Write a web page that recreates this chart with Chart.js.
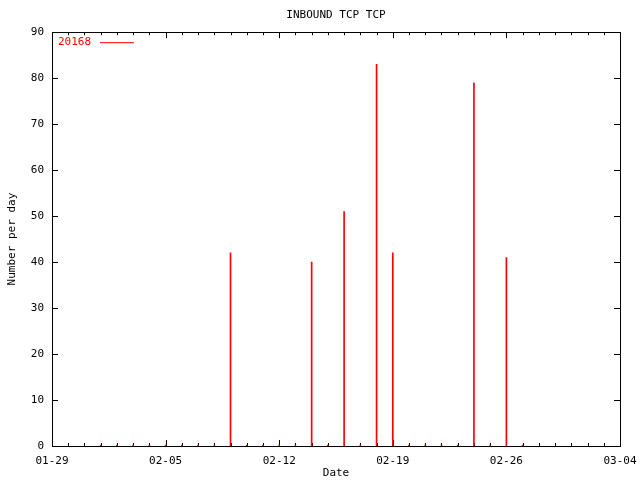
<!DOCTYPE html>
<html>
<head>
<meta charset="utf-8">
<script src="https://cdn.jsdelivr.net/npm/chart.js@4/dist/chart.umd.min.js"></script>
<style>
  html, body { margin: 0; padding: 0; background: #fff; }
  #wrap { width: 640px; height: 480px; }
</style>
</head>
<body>
<div id="wrap"><canvas id="chart" width="640" height="480"></canvas></div>
<script>
// datos (año bisiesto: 02-26 + 7 dias = 03-04)
const fechas = ['02-01','02-02','02-03','02-04','02-05','02-06','02-07','02-08','02-09',
                '02-10','02-11','02-12','02-13','02-14','02-15','02-16','02-17','02-18',
                '02-19','02-20','02-21','02-22','02-23','02-24','02-25','02-26','02-27'];
const valores = [0, 0, 0, 0, 0, 0, 0, 0, 42,
                 0, 0, 0, 0, 40, 0, 51, 0, 83,
                 42, 0, 0, 0, 0, 79, 0, 41, 0];
const serie = '20168';
const inicio = '01-29';
const fin = '03-04';
const yTicks = [0, 10, 20, 30, 40, 50, 60, 70, 80, 90];

const ANIO = 2004;
const DIA = 86400000;
const FUENTE = '"DejaVu Sans Mono", "Liberation Mono", monospace';

function aDia(mmdd) {
    const [m, d] = mmdd.split('-').map(Number);
    const t0 = Date.UTC(ANIO, 0, 29);
    return Math.round((Date.UTC(ANIO, m - 1, d) - t0) / DIA);
}

function aFecha(n) {
    const f = new Date(Date.UTC(ANIO, 0, 29) + n * DIA);
    const mm = String(f.getUTCMonth() + 1).padStart(2, '0');
    const dd = String(f.getUTCDate()).padStart(2, '0');
    return mm + '-' + dd;
}

const puntos = fechas.map((f, i) => ({ x: aDia(f), y: valores[i] }));

// marcas hacia adentro (mayores y menores) y marco estilo gnuplot, debajo de las barras
const marcoPlugin = {
    id: 'marco',
    beforeDatasetsDraw(chart) {
        const { ctx, chartArea: a, scales } = chart;
        const x = scales.x, y = scales.y;
        ctx.save();
        ctx.strokeStyle = '#000';
        ctx.lineWidth = 1;
        ctx.beginPath();
        // marcas del eje x, cada dia
        for (let d = x.min; d <= x.max; d++) {
            const px = Math.round(x.getPixelForValue(d)) + 0.5;
            const largo = (d % 7 === 0) ? 6 : 3;
            ctx.moveTo(px, a.bottom);
            ctx.lineTo(px, a.bottom - largo);
            ctx.moveTo(px, a.top);
            ctx.lineTo(px, a.top + largo);
        }
        // marcas del eje y
        yTicks.forEach(v => {
            const py = Math.round(y.getPixelForValue(v)) + 0.5;
            ctx.moveTo(a.left, py);
            ctx.lineTo(a.left + 6, py);
            ctx.moveTo(a.right, py);
            ctx.lineTo(a.right - 6, py);
        });
        ctx.stroke();
        ctx.strokeRect(Math.round(a.left) + 0.5, Math.round(a.top) + 0.5,
                       Math.round(a.right - a.left), Math.round(a.bottom - a.top));
        ctx.restore();
    },
    // leyenda dentro del area, arriba a la izquierda
    afterDraw(chart) {
        const { ctx, chartArea: a } = chart;
        const ds = chart.data.datasets[0];
        ctx.save();
        ctx.fillStyle = ds.borderColor;
        ctx.font = '11px ' + FUENTE;
        ctx.textBaseline = 'middle';
        ctx.textAlign = 'left';
        ctx.fillText(ds.label, a.left + 6, a.top + 10);
        ctx.strokeStyle = ds.borderColor;
        ctx.lineWidth = 1;
        ctx.beginPath();
        ctx.moveTo(a.left + 48, a.top + 10.5);
        ctx.lineTo(a.left + 82, a.top + 10.5);
        ctx.stroke();
        ctx.restore();
    }
};

Chart.defaults.font.family = FUENTE;
Chart.defaults.font.size = 11;
Chart.defaults.color = '#000';

new Chart(document.getElementById('chart').getContext('2d'), {
    type: 'bar',
    data: {
        datasets: [{
            label: serie,
            data: puntos,
            backgroundColor: '#ff0000',
            borderColor: '#ff0000',
            borderWidth: 0,
            barThickness: 1,
            minBarLength: 1
        }]
    },
    options: {
        responsive: false,
        animation: false,
        layout: { padding: { left: 0, right: 0, top: 0, bottom: 0 } },
        plugins: {
            legend: { display: false },
            tooltip: { enabled: false },
            title: {
                display: true,
                text: 'INBOUND TCP TCP',
                fullSize: false,
                font: { size: 11, weight: 'normal' },
                padding: { top: 9, bottom: 10 }
            }
        },
        scales: {
            x: {
                type: 'linear',
                min: aDia(inicio),
                max: aDia(fin),
                offset: false,
                grid: { display: false, drawTicks: false },
                border: { display: false },
                ticks: {
                    stepSize: 7,
                    padding: 9,
                    maxRotation: 0,
                    autoSkip: false,
                    callback: v => aFecha(v)
                },
                title: { display: true, text: 'Date', padding: { top: 0, bottom: 0 } },
                afterFit: s => { s.height = 34; s.paddingRight = 20; }
            },
            y: {
                min: 0,
                max: 90,
                grid: { display: false, drawTicks: false },
                border: { display: false },
                ticks: { stepSize: 10, padding: 8 },
                title: { display: true, text: 'Number per day', padding: { top: 6, bottom: 0 } },
                afterFit: s => { s.width = 52; }
            }
        }
    },
    plugins: [marcoPlugin]
});
</script>
</body>
</html>
